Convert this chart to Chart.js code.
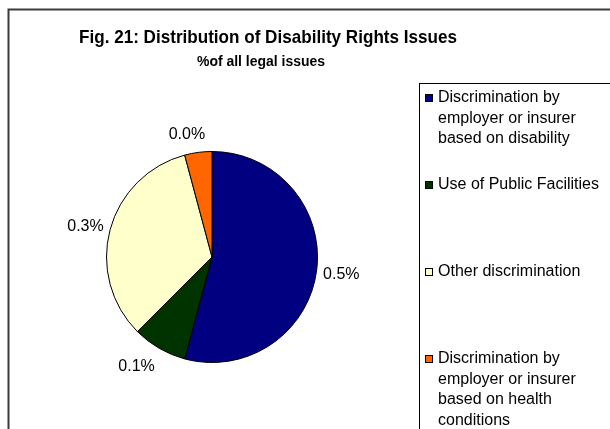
<!DOCTYPE html>
<html>
<head>
<meta charset="utf-8">
<script src="https://cdn.jsdelivr.net/npm/chart.js@4/dist/chart.umd.min.js"></script>
<style>
  html, body { margin: 0; padding: 0; background: #fff; }
  #wrap { position: relative; width: 610px; height: 429px; }
</style>
</head>
<body>
<div id="wrap"><canvas id="pie" width="610" height="429"></canvas></div>
<script>
const title = 'Fig. 21: Distribution of Disability Rights Issues'
const subtitle = '%of all legal issues'

const categories = [
  'Discrimination by employer or insurer based on disability',
  'Use of Public Facilities',
  'Other discrimination',
  'Discrimination by employer or insurer based on health conditions'
]
// share of all legal issues, in percent
const shares = [0.52, 0.08, 0.32, 0.04]
const colors = ['#000080', '#003300', '#FFFFCC', '#FF6600']

const FONT = '"Liberation Sans", Arial, sans-serif'

const wrapText = (ctx, text, maxWidth) => {
  const words = text.split(' ')
  const lines = []
  let line = ''
  words.forEach(w => {
    const test = line ? line + ' ' + w : w
    if (line && ctx.measureText(test).width > maxWidth) {
      lines.push(line)
      line = w
    } else {
      line = test
    }
  })
  if (line) lines.push(line)
  return lines
}

// draws text squeezed horizontally to a given width
const fillCondensed = (ctx, text, cx, cy, width) => {
  const natural = ctx.measureText(text).width
  const sx = Math.min(1, width / natural)
  ctx.save()
  ctx.translate(cx, cy)
  ctx.scale(sx, 1)
  ctx.fillText(text, 0, 0)
  ctx.restore()
}

// frame, title block, value labels and the boxed legend
const decorPlugin = {
  id: 'decor',
  beforeDraw(chart) {
    const ctx = chart.ctx
    ctx.save()
    ctx.fillStyle = '#fff'
    ctx.fillRect(0, 0, chart.width, chart.height)
    ctx.strokeStyle = '#3a3a3a'
    ctx.lineWidth = 2
    ctx.strokeRect(8.5, 9.5, 700, 500)
    ctx.restore()
  },
  afterDraw(chart) {
    const ctx = chart.ctx
    ctx.save()
    ctx.fillStyle = '#000'
    ctx.textAlign = 'center'
    ctx.textBaseline = 'middle'
    ctx.font = 'bold 19px ' + FONT
    fillCondensed(ctx, title, 268, 38, 378)
    ctx.font = 'bold 14px ' + FONT
    fillCondensed(ctx, subtitle, 261, 62, 128)

    // value labels just outside each slice
    ctx.font = '16px ' + FONT
    const clamp = v => Math.max(-1, Math.min(1, v))
    const meta = chart.getDatasetMeta(0)
    meta.data.forEach((arc, i) => {
      const mid = (arc.startAngle + arc.endAngle) / 2
      const dx = Math.cos(mid)
      const dy = Math.sin(mid)
      const r = arc.outerRadius + 4
      const text = shares[i].toFixed(1) + '%'
      const halfW = ctx.measureText(text).width / 2 + 2.5
      const halfH = 15
      const cx = arc.x + dx * r + clamp(dx * 4) * halfW
      const cy = arc.y + dy * r + clamp(dy) * halfH + 1.5
      ctx.fillText(text, cx, cy)
    })

    // legend
    const box = { x: 419.5, y: 83.5 }
    ctx.strokeStyle = '#000'
    ctx.lineWidth = 1
    ctx.strokeRect(box.x, box.y, 300, 400)
    ctx.textAlign = 'left'
    const slot = 87
    const lineH = 20.5
    categories.forEach((label, i) => {
      const top = box.y + 14.5 + i * slot
      ctx.fillStyle = colors[i]
      ctx.fillRect(425, top - 4, 8, 8)
      ctx.strokeStyle = '#000'
      ctx.strokeRect(425.5, top - 3.5, 7, 7)
      ctx.fillStyle = '#000'
      wrapText(ctx, label, 166).forEach((ln, j) => {
        ctx.fillText(ln, 438, top + j * lineH)
      })
    })
    ctx.restore()
  }
}

new Chart(document.getElementById('pie'), {
  type: 'pie',
  data: {
    labels: categories,
    datasets: [{
      data: shares,
      backgroundColor: colors,
      borderColor: '#000',
      borderWidth: 1
    }]
  },
  options: {
    responsive: false,
    animation: false,
    events: [],
    layout: { padding: { left: 106, right: 292, top: 151, bottom: 66 } },
    plugins: {
      legend: { display: false },
      tooltip: { enabled: false },
      title: { display: false }
    }
  },
  plugins: [decorPlugin]
})
</script>
</body>
</html>
